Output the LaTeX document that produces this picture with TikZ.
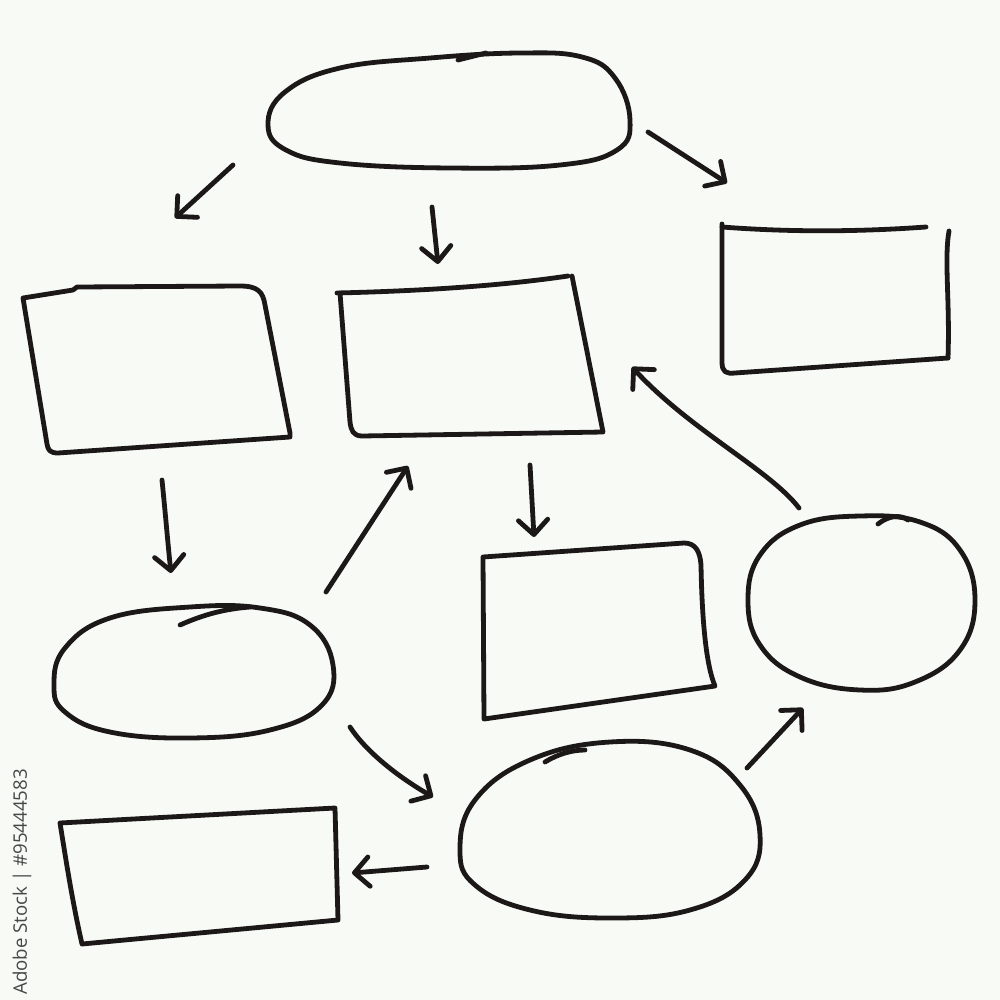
\documentclass[tikz,border=0pt]{standalone}
\usepackage{fontspec}
\newfontfamily\stockfont{Open Sans}
\usetikzlibrary{arrows.meta}

\definecolor{paper}{RGB}{247,250,245}
\definecolor{ink}{RGB}{28,24,24}

\tikzset{every picture/.style={line width=0.75pt}}
\tikzset{
  sketch/.style={line width=3.6pt, draw=ink, line cap=round, line join=round},
  pointer/.style={sketch, -{Straight Barb[length=11pt,width=22pt,line cap=round,line join=round]}},
}

\begin{document}
\begin{tikzpicture}[x=0.75pt,y=0.75pt,yscale=-1,xscale=1]

\fill [paper] (0,0) rectangle (1000,1000) ;
\useasboundingbox (0,0) rectangle (1000,1000) ;

% ovals
\draw [sketch] plot [smooth cycle, tension=0.7] coordinates {(268,125) (285,92) (340,68) (430,58) (520,53) (582,57) (615,78) (630,120) (617,150) (560,165) (450,168) (340,163) (286,150)} ;
\draw [sketch] (458,60) -- (486,53) ;
\draw [sketch] plot [smooth cycle, tension=0.7] coordinates {(748,600) (760,555) (800,525) (860,516) (920,522) (960,550) (975,600) (960,650) (915,682) (860,690) (800,677) (760,645)} ;
\draw [sketch] (878,524) .. controls (888,516) and (900,514) .. (908,520) ;
\draw [sketch] plot [smooth cycle, tension=0.7] coordinates {(54,685) (65,648) (110,618) (190,607) (260,608) (310,625) (333,665) (322,705) (270,730) (190,738) (110,732) (65,712)} ;
\draw [sketch] (180,625) .. controls (205,614) and (225,609) .. (250,607) ;
\draw [sketch] plot [smooth cycle, tension=0.7] coordinates {(460,850) (475,800) (530,760) (610,742) (690,750) (740,785) (760,835) (745,880) (690,910) (610,918) (530,910) (475,885)} ;
\draw [sketch] (545,762) .. controls (558,754) and (572,750) .. (585,750) ;

% boxes
\draw [sketch] (23,298) -- (73,290) -- (77,287) -- (240,286) .. controls (258,286) and (263,292) .. (265,305) -- (290,433) -- (290,437) -- (58,453) .. controls (50,453) and (48,450) .. (47,444) -- cycle ;
\draw [sketch] (337,293) .. controls (420,291) and (500,286) .. (568,276) ;
\draw [sketch] (572,276) -- (603,432) -- (362,436) .. controls (353,436) and (351,430) .. (350,422) -- (340,293) ;
\draw [sketch] (722,227) .. controls (800,233) and (870,231) .. (926,227) ;
\draw [sketch] (722,224) -- (722,362) .. controls (722,372) and (726,374) .. (735,373) -- (948,358) ;
\draw [sketch] (949,231) .. controls (944,260) and (950,300) .. (948,358) ;
\draw [sketch] (483,557) -- (684,543) .. controls (696,543) and (700,552) .. (701,565) .. controls (702,620) and (706,665) .. (715,686) -- (484,719) -- cycle ;
\draw [sketch] (60,823) -- (335,808) -- (338,920) -- (82,944) .. controls (72,900) and (66,860) .. (60,823) ;

% arrow ends
\coordinate (topL) at (233,165) ;
\coordinate (boxL) at (175,218) ;
\coordinate (topM) at (432,207) ;
\coordinate (boxM) at (438,264) ;
\coordinate (topR) at (648,132) ;
\coordinate (boxR) at (727,183) ;
\coordinate (boxLout) at (162,480) ;
\coordinate (ovalLin) at (171,573) ;
\coordinate (ovalLup) at (326,592) ;
\coordinate (boxMin) at (408,466) ;
\coordinate (boxMout) at (530,465) ;
\coordinate (boxBin) at (534,537) ;
\coordinate (ovalRout) at (799,508) ;
\coordinate (boxMside) at (632,367) ;
\coordinate (ovalLout) at (350,727) ;
\coordinate (ovalBin) at (433,797) ;
\coordinate (ovalBout) at (427,867) ;
\coordinate (boxBLin) at (352,873) ;
\coordinate (ovalBup) at (747,768) ;
\coordinate (ovalRin) at (803,708) ;

\draw [pointer] (topL) -- (boxL) ;
\draw [pointer] (topM) -- (boxM) ;
\draw [pointer] (topR) -- (boxR) ;
\draw [pointer] (boxLout) .. controls (166,520) and (168,545) .. (ovalLin) ;
\draw [pointer] (ovalLup) -- (boxMin) ;
\draw [pointer] (boxMout) -- (boxBin) ;
\draw [pointer] (ovalRout) .. controls (770,470) and (690,430) .. (boxMside) ;
\draw [pointer] (ovalLout) .. controls (365,750) and (395,775) .. (ovalBin) ;
\draw [pointer] (ovalBout) -- (boxBLin) ;
\draw [pointer] (ovalBup) -- (ovalRin) ;

\node [rotate=90, text=black!72, font=\stockfont\fontsize{14}{16}\selectfont] (stockid) at (22,882) {Adobe Stock | \#95444583} ;

\end{tikzpicture}
\end{document}
